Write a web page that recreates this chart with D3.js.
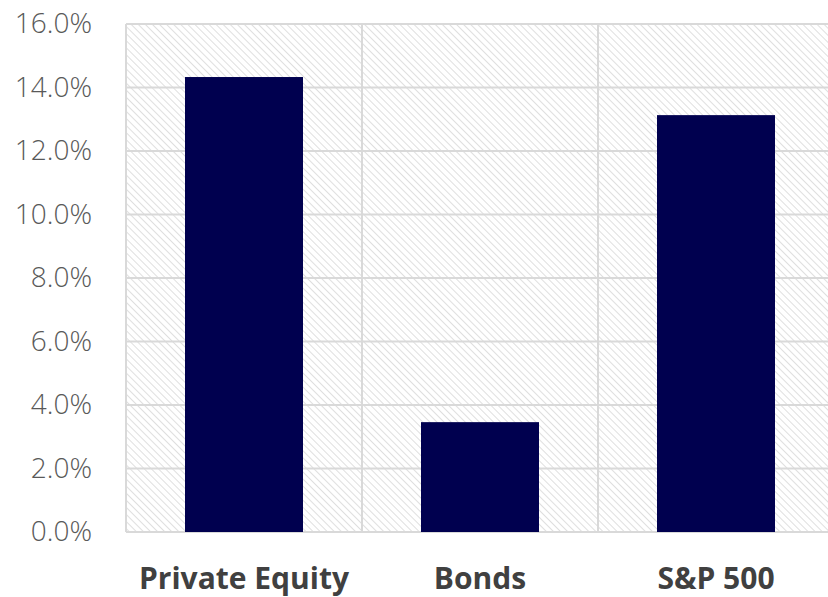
<!DOCTYPE html>
<html>
<head>
<meta charset="utf-8">
<script src="https://cdn.jsdelivr.net/npm/d3@7"></script>
<style>
  html, body { margin: 0; padding: 0; background: #fff; overflow: hidden; }
  svg { display: block; }
</style>
</head>
<body>
<svg id="chart" width="828" height="597"></svg>
<script>
// Annualised returns by asset class (percent)
const categories = ["Private Equity", "Bonds", "S&P 500"];
const returns = [14.33, 3.46, 13.13];
const yTicks = [0, 2, 4, 6, 8, 10, 12, 14, 16];

const width = 828, height = 597;
const plot = { left: 126, right: 834, top: 24, bottom: 532 };

const svg = d3.select("#chart");

// Diagonal hatch fill for the plot background
const defs = svg.append("defs");
const pat = defs.append("pattern")
  .attr("id", "hatch")
  .attr("patternUnits", "userSpaceOnUse")
  .attr("width", 5)
  .attr("height", 5)
  .attr("patternTransform", "rotate(-45)");
pat.append("rect").attr("width", 5).attr("height", 5).attr("fill", "#ffffff");
pat.append("line")
  .attr("x1", 0).attr("y1", 0).attr("x2", 0).attr("y2", 5)
  .attr("stroke", "#dcdcdc").attr("stroke-width", 1.8);

const x = d3.scaleBand()
  .domain(categories)
  .range([plot.left, plot.right])
  .paddingInner(0.5)
  .paddingOuter(0.25);

const y = d3.scaleLinear()
  .domain([0, 16])
  .range([plot.bottom, plot.top]);

svg.append("rect")
  .attr("x", plot.left)
  .attr("y", plot.top)
  .attr("width", plot.right - plot.left)
  .attr("height", plot.bottom - plot.top)
  .attr("fill", "url(#hatch)");

// Horizontal gridlines
svg.append("g")
  .selectAll("line")
  .data(yTicks)
  .join("line")
  .attr("x1", plot.left).attr("x2", plot.right)
  .attr("y1", d => y(d)).attr("y2", d => y(d))
  .attr("stroke", "#d9d9d9").attr("stroke-width", 2);

// Vertical gridlines at category boundaries
const step = x.step();
const bounds = d3.range(categories.length + 1).map(i => plot.left + i * step);
svg.append("g")
  .selectAll("line")
  .data(bounds)
  .join("line")
  .attr("x1", d => d).attr("x2", d => d)
  .attr("y1", plot.top).attr("y2", plot.bottom)
  .attr("stroke", "#d9d9d9").attr("stroke-width", 2);

// Bars
svg.append("g")
  .selectAll("rect")
  .data(categories.map((c, i) => ({ c, v: returns[i] })))
  .join("rect")
  .attr("x", d => x(d.c))
  .attr("width", x.bandwidth())
  .attr("y", d => y(d.v))
  .attr("height", d => y(0) - y(d.v))
  .attr("fill", "#00004f");

// Y axis labels
const yAxis = d3.axisLeft(y)
  .tickValues(yTicks)
  .tickFormat(d => d.toFixed(1) + "%")
  .tickSize(0)
  .tickPadding(34);
const gy = svg.append("g")
  .attr("transform", `translate(${plot.left},0)`)
  .call(yAxis);
gy.select(".domain").remove();
gy.selectAll("text")
  .attr("font-family", "'Open Sans', 'Noto Sans', sans-serif")
  .attr("font-weight", 300)
  .attr("font-size", 28)
  .attr("fill", "#595959");

// X axis labels
const xAxis = d3.axisBottom(x).tickSize(0).tickPadding(36);
const gx = svg.append("g")
  .attr("transform", `translate(0,${plot.bottom})`)
  .call(xAxis);
gx.select(".domain").remove();
gx.selectAll("text")
  .attr("font-family", "'Open Sans', 'Noto Sans', sans-serif")
  .attr("font-weight", 700)
  .attr("font-size", 30)
  .attr("fill", "#404040");
</script>
</body>
</html>
